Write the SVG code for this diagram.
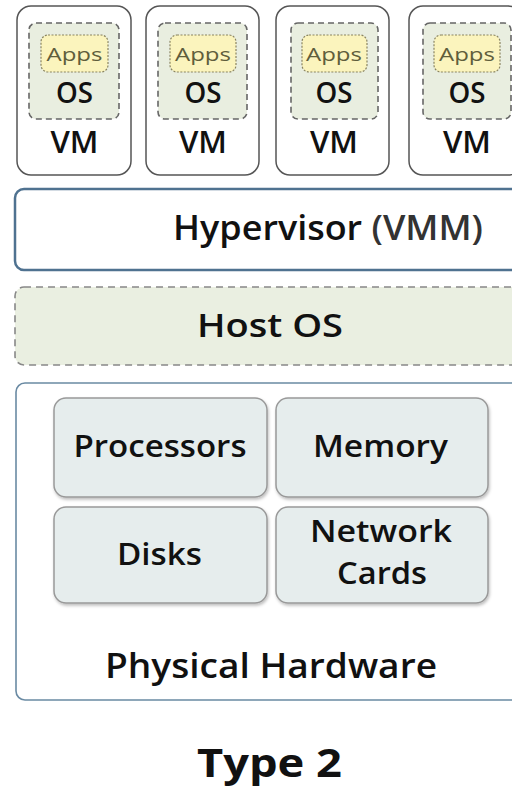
<svg xmlns="http://www.w3.org/2000/svg" width="512" height="789" viewBox="0 0 512 789">
<defs>
<style>
text{font-family:"Open Sans","Liberation Sans",sans-serif;font-weight:600;fill:#111;text-anchor:middle}
.vm{fill:#fff;stroke:#555;stroke-width:1.5}
.osb{fill:#e9eee0;stroke:#666;stroke-width:1.6;stroke-dasharray:6 4}
.apps{fill:#fbf4bd;stroke:#8a8460;stroke-width:1.2;stroke-dasharray:2 1.5}
.appt{font-size:19px;fill:#5f5e3c;font-weight:400}
.ost{font-size:28px}
.vmt{font-size:30px}
.layer{fill:#fff;stroke:#4f7290;stroke-width:2.5}
.host{fill:#eaefe1;stroke:#888;stroke-width:1.6;stroke-dasharray:7 5}
.hw{fill:#fff;stroke:#6a8aa3;stroke-width:1.6}
.part{fill:#e6eded;stroke:#999;stroke-width:1.5;filter:url(#sh)}
.p{font-size:31px}
</style>
<filter id="sh" x="-10%" y="-10%" width="120%" height="130%">
<feDropShadow dx="1" dy="2" stdDeviation="1.5" flood-color="#000" flood-opacity="0.25"/>
</filter>
</defs>
<rect width="512" height="789" fill="#fff"/>
<g id="vm1">
<rect class="vm" x="17" y="6" width="114" height="169" rx="14"/>
<rect class="osb" x="29" y="23" width="90" height="96" rx="7"/>
<rect class="apps" x="41" y="35" width="67" height="37" rx="7"/>
<text class="appt" x="74.5" y="61" textLength="56" lengthAdjust="spacingAndGlyphs">Apps</text>
<text class="ost" x="74.5" y="103" textLength="37" lengthAdjust="spacingAndGlyphs">OS</text>
<text class="vmt" x="74.5" y="153" textLength="48" lengthAdjust="spacingAndGlyphs">VM</text>
</g>
<g id="vm2">
<rect class="vm" x="146" y="6" width="113" height="169" rx="14"/>
<rect class="osb" x="158" y="23" width="89" height="96" rx="7"/>
<rect class="apps" x="170" y="35" width="66" height="37" rx="7"/>
<text class="appt" x="203" y="61" textLength="56" lengthAdjust="spacingAndGlyphs">Apps</text>
<text class="ost" x="203" y="103" textLength="37" lengthAdjust="spacingAndGlyphs">OS</text>
<text class="vmt" x="203" y="153" textLength="48" lengthAdjust="spacingAndGlyphs">VM</text>
</g>
<g id="vm3">
<rect class="vm" x="276" y="6" width="113" height="169" rx="14"/>
<rect class="osb" x="291" y="23" width="87" height="96" rx="7"/>
<rect class="apps" x="302" y="35" width="65" height="37" rx="7"/>
<text class="appt" x="334" y="61" textLength="56" lengthAdjust="spacingAndGlyphs">Apps</text>
<text class="ost" x="334" y="103" textLength="37" lengthAdjust="spacingAndGlyphs">OS</text>
<text class="vmt" x="334" y="153" textLength="48" lengthAdjust="spacingAndGlyphs">VM</text>
</g>
<g id="vm4">
<rect class="vm" x="409" y="6" width="113" height="169" rx="14"/>
<rect class="osb" x="423" y="23" width="88" height="96" rx="7"/>
<rect class="apps" x="434" y="35" width="66" height="37" rx="7"/>
<text class="appt" x="467" y="61" textLength="56" lengthAdjust="spacingAndGlyphs">Apps</text>
<text class="ost" x="467" y="103" textLength="37" lengthAdjust="spacingAndGlyphs">OS</text>
<text class="vmt" x="467" y="153" textLength="48" lengthAdjust="spacingAndGlyphs">VM</text>
</g>
<g id="hypervisor">
<rect class="layer" x="15" y="189" width="520" height="81" rx="9"/>
<text x="328" y="240" style="font-size:35px" textLength="310" lengthAdjust="spacingAndGlyphs">Hypervisor <tspan style="fill:#333">(VMM)</tspan></text>
</g>
<g id="hostos">
<rect class="host" x="15" y="287" width="520" height="78" rx="9"/>
<text x="270" y="337" style="font-size:33px" textLength="146" lengthAdjust="spacingAndGlyphs">Host OS</text>
</g>
<g id="hardware">
<rect class="hw" x="16" y="383" width="520" height="317" rx="9"/>
<text x="271" y="678" style="font-size:34px" textLength="332" lengthAdjust="spacingAndGlyphs">Physical Hardware</text>
</g>
<g id="processors">
<rect class="part" x="54" y="398" width="213" height="99" rx="12"/>
<text class="p" x="160" y="457" textLength="173" lengthAdjust="spacingAndGlyphs">Processors</text>
</g>
<g id="memory">
<rect class="part" x="276" y="398" width="212" height="99" rx="12"/>
<text class="p" x="380.5" y="457" textLength="135" lengthAdjust="spacingAndGlyphs">Memory</text>
</g>
<g id="disks">
<rect class="part" x="54" y="507" width="213" height="96" rx="12"/>
<text class="p" x="159.5" y="565" textLength="85" lengthAdjust="spacingAndGlyphs">Disks</text>
</g>
<g id="network">
<rect class="part" x="276" y="507" width="212" height="96" rx="12"/>
<text class="p" x="381" y="542" textLength="142" lengthAdjust="spacingAndGlyphs">Network</text>
<text class="p" x="382" y="584" textLength="90" lengthAdjust="spacingAndGlyphs">Cards</text>
</g>
<g id="connectors"/>
<g id="caption">
<text x="269.5" y="777" style="font-size:40px;font-weight:700" textLength="145" lengthAdjust="spacingAndGlyphs">Type 2</text>
</g>
</svg>
